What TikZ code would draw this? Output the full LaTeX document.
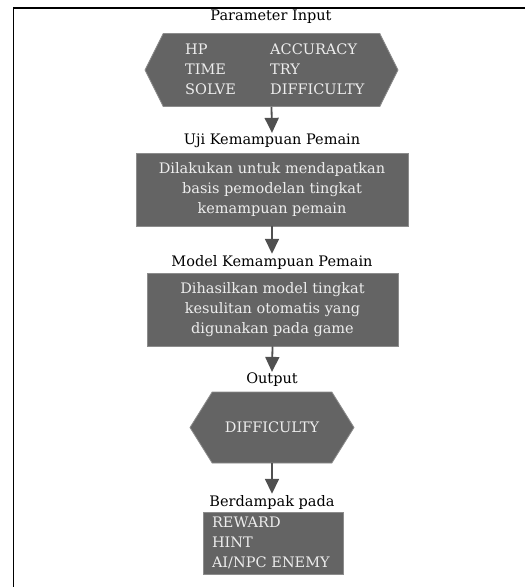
\documentclass[tikz,border=0pt]{standalone}
\usepackage{fontspec}
\setmainfont{DejaVu Serif}
\usepackage{xcolor}
\usepackage{tikz}
\usetikzlibrary{shapes.symbols,arrows.meta}

\definecolor{boxgray}{HTML}{646464}
\definecolor{edgegray}{HTML}{8C8C8C}
\definecolor{txtgray}{HTML}{EDEDED}
\definecolor{arrgray}{HTML}{505050}

\tikzset{
  box/.style={draw=edgegray, line width=0.8pt, fill=boxgray, text=txtgray, inner sep=0pt},
  hexa/.style={box, signal, signal to=west and east},
  lbl/.style={inner sep=1pt, text=black},
  arr/.style={draw=arrgray, line width=1.8pt, -{Triangle[width=14pt,length=15pt]}}
}

\begin{document}
\begin{tikzpicture}[x=1pt, y=-1pt, font=\fontsize{14.5}{20}\selectfont]
    \useasboundingbox (0,0) rectangle (525,587);
    % frame
    \draw[line width=1.4pt] (13.5,587) -- (13.5,8) -- (525,8);

    % Parameter Input
    \node[lbl] (t1) at (271,17) {Parameter Input};
    \node[hexa, minimum width=253pt, minimum height=73pt, signal pointer angle=127] (hex1) at (271.5,70) {};
    \node[text=txtgray, anchor=west, inner sep=0pt] (par) at (185,70)
      {\begin{tabular}{@{}p{85pt}@{}l@{}}
        HP & ACCURACY\\
        TIME & TRY\\
        SOLVE & DIFFICULTY
       \end{tabular}};

    % Uji Kemampuan Pemain
    \node[lbl] (t2) at (272,141) {Uji Kemampuan Pemain};
    \node[box, minimum width=272pt, minimum height=73pt, align=center] (uji) at (272,189.5)
      {Dilakukan untuk mendapatkan\\basis pemodelan tingkat\\kemampuan pemain};

    % Model Kemampuan Pemain
    \node[lbl] (t3) at (272,262) {Model Kemampuan Pemain};
    \node[box, minimum width=251pt, minimum height=73pt, align=center] (model) at (272.5,309.5)
      {Dihasilkan model tingkat\\kesulitan otomatis yang\\digunakan pada game};

    % Output
    \node[lbl] (t4) at (272,380) {Output};
    \node[hexa, minimum width=164pt, minimum height=71pt, signal pointer angle=116] (hex2) at (272,427.5) {DIFFICULTY};

    % Berdampak pada
    \node[lbl] (t5) at (272,502) {Berdampak pada};
    \node[box, minimum width=140pt, minimum height=62pt, align=left, text width=122pt] (dampak) at (273,543)
      {REWARD\\HINT\\AI/NPC ENEMY};

    % arrows
    \draw[arr] (hex1.south) -- (t2.north);
    \draw[arr] (uji.south) -- (t3.north);
    \draw[arr] (model.south) -- (t4.north);
    \draw[arr] (hex2.south) -- (t5.north);
\end{tikzpicture}
\end{document}
